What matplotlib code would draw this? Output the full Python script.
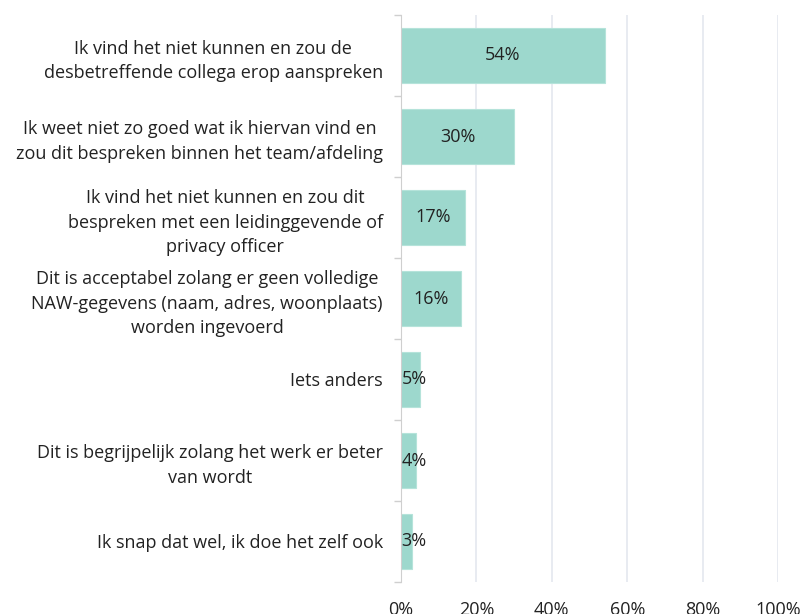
import matplotlib
matplotlib.use("Agg")
from matplotlib import pyplot as plt
from matplotlib.ticker import FixedLocator

# Antwoordcategorieen en percentages (van boven naar beneden)
labels = [
    "Ik vind het niet kunnen en zou de\ndesbetreffende collega erop aanspreken",
    "Ik weet niet zo goed wat ik hiervan vind en\nzou dit bespreken binnen het team/afdeling",
    "Ik vind het niet kunnen en zou dit\nbespreken met een leidinggevende of\nprivacy officer",
    "Dit is acceptabel zolang er geen volledige\nNAW-gegevens (naam, adres, woonplaats)\nworden ingevoerd",
    "Iets anders",
    "Dit is begrijpelijk zolang het werk er beter\nvan wordt",
    "Ik snap dat wel, ik doe het zelf ook",
]
values = [54, 30, 17, 16, 5, 4, 3]
xticks = [0, 20, 40, 60, 80, 100]

plt.rcParams['font.family'] = ['Open Sans', 'DejaVu Sans']

fig = plt.figure(figsize=(8.02, 6.14), dpi=100)
ax = fig.add_axes([401/802, 1 - 582/614, (778 - 401)/802, (582 - 15)/614])

pos = list(range(len(values)))
ax.barh(pos, values, height=0.67, color="#9DD8CD", edgecolor="#B5E3DA", linewidth=0.8, zorder=3)

# percentage in het midden van de balk, bij kleine balken tegen de as aan
for p, v in zip(pos, values):
    ax.text(max(v / 2, 3.5), p, f"{v}%", ha="center", va="center",
            fontsize=13, color="#222222", zorder=4)

ax.set_xlim(0, 100)
ax.set_ylim(len(values) - 0.5, -0.5)
ax.set_xticks(xticks)
ax.set_xticklabels([f"{t}%" for t in xticks], fontsize=13, color="#222222")
ax.tick_params(axis="x", length=0, pad=14)
ax.xaxis.grid(True, color="#E4E8EF", linewidth=1.2, zorder=0)

ax.set_yticks(pos)
ax.set_yticklabels(labels, fontsize=13, color="#222222", multialignment="center", linespacing=1.45)
ax.tick_params(axis="y", which="major", length=0, pad=13)
ax.yaxis.set_minor_locator(FixedLocator([p - 0.5 for p in range(len(values) + 1)]))
ax.tick_params(axis="y", which="minor", length=5, color="#CFCFCF", width=1)

for side in ["top", "right", "bottom"]:
    ax.spines[side].set_visible(False)
ax.spines["left"].set_color("#CFCFCF")
ax.spines["left"].set_zorder(5)

fig.savefig("out.png", dpi=100)
